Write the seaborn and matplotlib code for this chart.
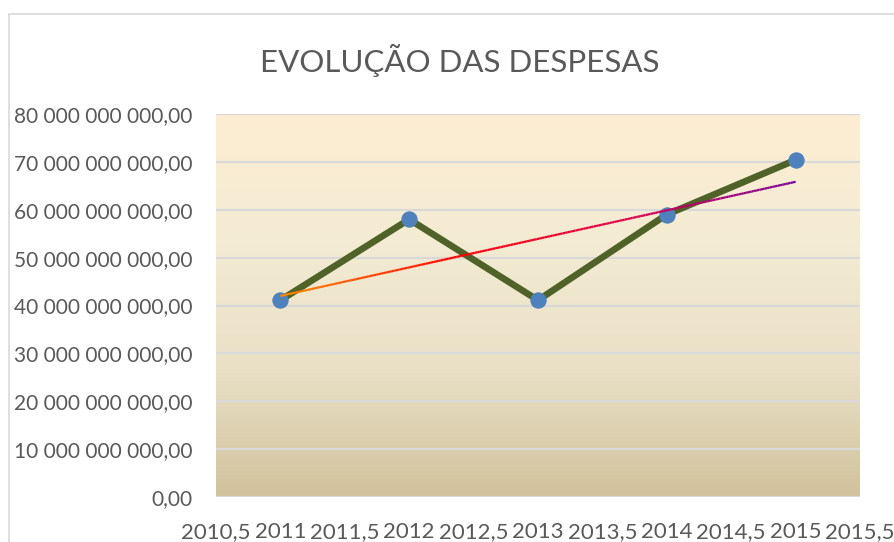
import matplotlib.pyplot as plt
import matplotlib.ticker as mticker
from matplotlib.collections import LineCollection
from matplotlib.colors import LinearSegmentedColormap
from matplotlib.patches import Rectangle
import numpy as np
import pandas as pd
import seaborn as sns

# Data
anos = [2011, 2012, 2013, 2014, 2015]
despesas = [41.1e9, 58.0e9, 41.1e9, 59.0e9, 70.4e9]
x_ticks = [2010.5, 2011, 2011.5, 2012, 2012.5, 2013, 2013.5, 2014, 2014.5, 2015, 2015.5]
y_ticks = [0, 10e9, 20e9, 30e9, 40e9, 50e9, 60e9, 70e9, 80e9]
titulo = "EVOLUÇÃO DAS DESPESAS"

df = pd.DataFrame({"ano": anos, "despesa": despesas})

sns.set_theme(style="white")
plt.rcParams['font.family'] = ['Lato', 'DejaVu Sans']
text_col = "#595959"

fig = plt.figure(figsize=(8.94, 5.42), dpi=100)
# chart border (cropped on right and bottom)
fig.patches.append(Rectangle((9 / 894, -0.1), 2, (542 - 14) / 542 + 0.1,
                             transform=fig.transFigure, fill=False,
                             edgecolor="#d9d9d9", linewidth=1.2))

ax = fig.add_axes([216 / 894, 45 / 542, 644 / 894, 383 / 542])

# gradient background of plot area
grad = np.linspace(0, 1, 256).reshape(-1, 1)
bg_cmap = LinearSegmentedColormap.from_list("bg", ["#d1c29c", "#e9e0c6", "#f4ebd4", "#fdeed2"])
ax.imshow(grad, cmap=bg_cmap, aspect="auto", origin="lower",
          extent=[2010.5, 2015.5, 0, 80e9], zorder=0)

for v in y_ticks:
    ax.axhline(v, color="#d9d9d9", linewidth=1.6, zorder=1)

# linear trendline with colour gradient
coef = np.polyfit(df["ano"], df["despesa"], 1)
tx = np.linspace(anos[0], anos[-1], 200)
ty = np.polyval(coef, tx)
pts = np.array([tx, ty]).T.reshape(-1, 1, 2)
segs = np.concatenate([pts[:-1], pts[1:]], axis=1)
trend_cmap = LinearSegmentedColormap.from_list("tr", ["#ff8c00", "#ff0000", "#e0004a", "#7b0099"])
lc = LineCollection(segs, cmap=trend_cmap, linewidth=1.6, zorder=4)
lc.set_array(np.linspace(0, 1, len(segs)))
ax.add_collection(lc)

sns.lineplot(data=df, x="ano", y="despesa", ax=ax, color="#4f6228", linewidth=4.8,
             marker="o", markersize=11, markerfacecolor="#4f81bd",
             markeredgecolor="#4f81bd", zorder=3)

ax.set_xlim(2010.5, 2015.5)
ax.set_ylim(0, 80e9)
ax.set_xticks(x_ticks)
ax.set_yticks(y_ticks)
ax.xaxis.set_major_formatter(mticker.FuncFormatter(
    lambda v, p: (f"{v:.1f}".replace(".", ",") if v % 1 else f"{int(v)}")))
ax.yaxis.set_major_formatter(mticker.FuncFormatter(
    lambda v, p: f"{v:,.2f}".replace(",", " ").replace(".", ",")))
ax.tick_params(axis="both", length=0, colors=text_col)
ax.tick_params(axis="x", pad=18, labelsize=16)
ax.tick_params(axis="y", pad=17, labelsize=15)
ax.set_xlabel("")
ax.set_ylabel("")
for s in ax.spines.values():
    s.set_visible(False)

fig.text(460 / 894, 1 - 60 / 542, titulo, ha="center", va="center",
         fontsize=22.5, color=text_col)

fig.savefig("out.png", dpi=100)
